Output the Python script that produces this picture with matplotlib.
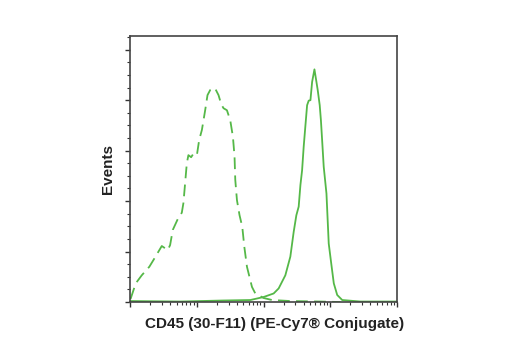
import numpy as np
import matplotlib
matplotlib.use("Agg")
import matplotlib.pyplot as plt
from matplotlib.ticker import LogLocator, MultipleLocator, NullFormatter

# isotype control (dashed), log10 of intensity and events
iso_log = [1.008, 1.086, 1.176, 1.290, 1.350, 1.476, 1.566, 1.601, 1.641, 1.721,
           1.776, 1.800, 1.826, 1.851, 1.875, 1.916, 1.950, 2.002, 2.036, 2.077,
           2.126, 2.161, 2.201, 2.246, 2.276, 2.326, 2.366, 2.401, 2.452, 2.502,
           2.542, 2.566, 2.577, 2.602, 2.641, 2.682, 2.712, 2.752, 2.827, 2.877,
           3.002, 3.128, 3.402, 3.853, 4.153]
iso_events = [0.06, 0.37, 0.53, 0.70, 0.83, 1.11, 1.03, 1.13, 1.43, 1.66,
              1.77, 1.96, 2.36, 2.75, 2.91, 2.87, 2.94, 2.91, 3.21, 3.41,
              3.80, 4.10, 4.20, 4.24, 4.23, 4.10, 3.92, 3.84, 3.80, 3.60,
              3.27, 2.88, 2.42, 2.02, 1.72, 1.49, 1.10, 0.70, 0.30, 0.17,
              0.08, 0.04, 0.02, 0.01, 0.0]

# CD45 stained (solid)
cd45_log = [1.008, 1.751, 2.381, 2.802, 3.002, 3.152, 3.227, 3.327, 3.402, 3.452,
            3.492, 3.527, 3.553, 3.578, 3.602, 3.628, 3.653, 3.677, 3.703, 3.728,
            3.763, 3.793, 3.812, 3.842, 3.860, 3.878, 3.902, 3.943, 3.977, 4.014,
            4.053, 4.104, 4.179, 4.453, 5.0]
cd45_events = [0.02, 0.01, 0.03, 0.04, 0.10, 0.17, 0.27, 0.53, 0.90, 1.39,
               1.72, 1.89, 2.32, 2.61, 3.08, 3.50, 3.90, 3.99, 4.00, 4.36,
               4.61, 4.36, 4.20, 3.90, 3.60, 3.21, 2.68, 2.15, 1.16, 0.77,
               0.37, 0.14, 0.04, 0.01, 0.01]

green = "#55b848"
font = ["Liberation Sans Narrow", "Liberation Sans"]

fig = plt.figure(figsize=(5.2, 3.5), dpi=100)
ax = fig.add_axes([0.25, 0.137, 0.5135, 0.76])

ax.plot(10 ** np.array(iso_log), iso_events, color=green, lw=1.3, dashes=(6.5, 3.5))
ax.plot(10 ** np.array(cd45_log), cd45_events, color=green, lw=1.3)

ax.set_xscale("log")
ax.set_xlim(10, 1e5)
ax.set_ylim(0, 5.27)
ax.xaxis.set_major_locator(LogLocator(base=10, numticks=10))
ax.xaxis.set_minor_locator(LogLocator(base=10, subs=np.arange(2, 10), numticks=10))
ax.xaxis.set_major_formatter(NullFormatter())
ax.xaxis.set_minor_formatter(NullFormatter())
ax.yaxis.set_major_locator(MultipleLocator(1))
ax.yaxis.set_minor_locator(MultipleLocator(0.25))
ax.yaxis.set_major_formatter(NullFormatter())

ax.tick_params(which="major", direction="out", length=3.5, width=1.0, color="#333333")
ax.tick_params(which="minor", direction="out", length=2, width=0.8, color="#333333")

for s in ax.spines.values():
    s.set_color("#444444")
    s.set_linewidth(1.2)

ax.set_xlabel("CD45 (30-F11) (PE-Cy7® Conjugate)", family=font, fontweight="bold",
              fontsize=11, color="#222222")
ax.xaxis.set_label_coords(0.54, -0.055)
ax.xaxis.label.set_va("top")
ax.set_ylabel("Events", family=font, fontweight="bold", fontsize=11, color="#222222")
ax.yaxis.set_label_coords(-0.056, 0.5)

fig.savefig("out.png", dpi=100)
